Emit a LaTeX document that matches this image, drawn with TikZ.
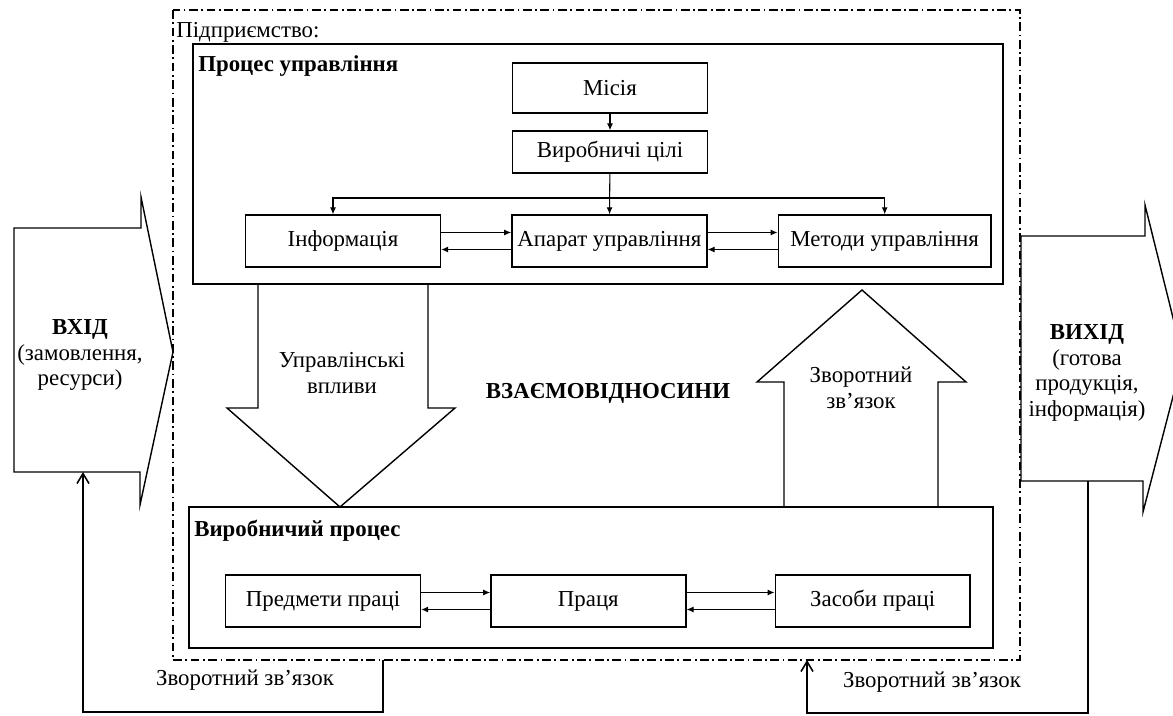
\documentclass[tikz,border=0pt]{standalone}
\usepackage{fontspec}
\setmainfont{Liberation Serif}
\usetikzlibrary{positioning,arrows.meta}
\tikzset{
  blk/.style={rectangle,draw,line width=0.8pt,minimum width=3.9cm,minimum height=1.04cm,
    inner sep=2pt,align=center,font=\fontsize{13}{14.5}\selectfont},
  frm/.style={draw,line width=0.9pt},
  encl/.style={draw,line width=0.7pt,dash pattern=on 5pt off 2pt on 1pt off 2pt},
  ar/.style={-{Latex[length=1.4mm,width=1.2mm]},line width=0.6pt},
  fb/.style={-{Straight Barb[length=2mm,width=2.4mm]},line width=0.9pt},
  big/.style={draw,line width=0.8pt,line join=miter},
  ttl/.style={font=\fontsize{13}{14.5}\selectfont\bfseries,anchor=west,inner sep=0pt},
  lbl/.style={font=\fontsize{13}{14.5}\selectfont,align=center},
}

\begin{document}
\begin{tikzpicture}[x=0.02cm,y=-0.02cm]
  \useasboundingbox (0,0) rectangle (1173,716);
  \clip (0,0) rectangle (1173,716);
  % enterprise
  \draw[encl] (173,10) rectangle (1020,660);
  \node[lbl,anchor=west,inner sep=0pt] (ent) at (176,32) {Підприємство:};
  % management process
  \draw[frm] (193,44) rectangle (1003,284);
  \node[ttl] (mgt) at (198,66) {Процес управління};
  \node[blk,minimum height=1cm] (mis) at (610,88) {Місія};
  \node[blk,minimum height=0.84cm] (goal) at (610,152) {Виробничі цілі};
  \node[blk] (inf) at (343,241) {Інформація};
  \node[blk,right=1.4cm of inf] (app) {Апарат управління};
  \node[blk,minimum width=4.26cm,right=1.4cm of app] (meth) {Методи управління};
  \draw[ar] (mis) -- (goal);
  \draw[ar] (goal) -- (app);
  \coordinate (split) at (goal.south |- 0,198);
  \draw[ar] (split) -| ([xshift=-0.2cm]inf.north);
  \draw[ar] (split) -| (meth.north);
  \draw[ar] ([yshift=0.17cm]inf.east) -- ([yshift=0.17cm]app.west);
  \draw[ar] ([yshift=-0.17cm]app.west) -- ([yshift=-0.17cm]inf.east);
  \draw[ar] ([yshift=0.17cm]app.east) -- ([yshift=0.17cm]meth.west);
  \draw[ar] ([yshift=-0.17cm]meth.west) -- ([yshift=-0.17cm]app.east);
  % production process
  \draw[frm] (189,507) rectangle (993,648);
  \node[ttl] (prt) at (194,531) {Виробничий процес};
  \node[blk] (subj) at (323,601) {Предмети праці};
  \node[blk,right=1.38cm of subj] (lab) {Праця};
  \node[blk,right=1.76cm of lab] (tool) {Засоби праці};
  \draw[ar] ([yshift=0.17cm]subj.east) -- ([yshift=0.17cm]lab.west);
  \draw[ar] ([yshift=-0.17cm]lab.west) -- ([yshift=-0.17cm]subj.east);
  \draw[ar] ([yshift=0.17cm]lab.east) -- ([yshift=0.17cm]tool.west);
  \draw[ar] ([yshift=-0.17cm]tool.west) -- ([yshift=-0.17cm]lab.east);
  % big arrows
  \draw[big] (258,284) -- (258,408) -- (227,408) -- (340,507) -- (455,408) -- (428,408) -- (428,284);
  \node[lbl] (ctl) at (342,373) {Управлінські\\впливи};
  \draw[big] (784,507) -- (784,382) -- (757,382) -- (862,290) -- (966,382) -- (938,382) -- (938,507);
  \node[lbl] (fbk) at (861,388) {Зворотний\\зв’язок};
  \node[ttl,anchor=center] (rel) at (608,393) {ВЗАЄМОВІДНОСИНИ};
  % input and output
  \draw[big] (14,228) -- (141,228) -- (141,197) -- (173,352) -- (140,505) -- (140,472) -- (14,472) -- cycle;
  \node[lbl] (inp) at (80,355) {\textbf{ВХІД}\\(замовлення,\\ресурси)};
  \draw[big] (1021,236) -- (1145,236) -- (1145,205) -- (1183,358) -- (1143,512) -- (1143,481) -- (1021,481) -- cycle;
  \node[lbl] (outp) at (1087,373) {\textbf{ВИХІД}\\(готова\\продукція,\\інформація)};
  % feedback
  \coordinate (inbot) at (83,472);
  \coordinate (outbot) at (1088,481);
  \coordinate (encL) at (383,660);
  \coordinate (encR) at (807,660);
  \draw[fb] (encL) -- ++(0,52) -| (inbot);
  \draw[fb] (outbot) -- ++(0,232) -| (encR);
  \node[lbl] (fbl) at (245,680) {Зворотний зв’язок};
  \node[lbl] (fbr) at (932,682) {Зворотний зв’язок};
\end{tikzpicture}
\end{document}
